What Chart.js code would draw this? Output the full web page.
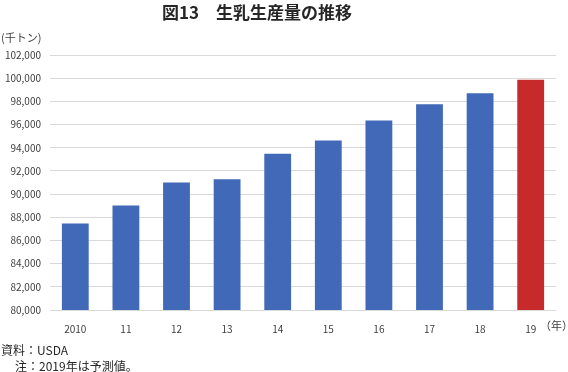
<!DOCTYPE html>
<html lang="ja">
<head>
    <meta charset="UTF-8" />
    <title>図13 生乳生産量の推移</title>
    <script src="https://cdn.jsdelivr.net/npm/chart.js"></script>
    <style>
        body {
            margin: 0;
            background: #fff;
            font-family: 'Noto Sans CJK JP', sans-serif;
            color: #262626;
        }
        #wrap {
            position: relative;
            width: 568px;
            height: 372px;
        }
        #grafico {
            position: absolute;
            left: 0;
            top: 0;
        }
        .txt {
            position: absolute;
            white-space: nowrap;
            line-height: 1;
        }
        #titulo {
            left: 162px;
            top: 3px;
            font-size: 17px;
            font-weight: bold;
        }
        #unidad { left: 1px; top: 32px; font-size: 11px; color: #404040; }
        #anio { left: 540px; top: 320px; font-size: 11px; color: #404040; }
        #fuente { left: 1px; top: 344px; font-size: 12px; }
        #nota { left: 15px; top: 360px; font-size: 12px; }
    </style>
</head>
<body>
    <div id="wrap">
        <canvas id="grafico" width="568" height="372"></canvas>
        <div class="txt" id="titulo">図13　生乳生産量の推移</div>
        <div class="txt" id="unidad">(千トン)</div>
        <div class="txt" id="anio">（年）</div>
        <div class="txt" id="fuente">資料：USDA</div>
        <div class="txt" id="nota">注：2019年は予測値。</div>
    </div>

    <script>
        // datos (千トン)
        const anios = ['2010', '11', '12', '13', '14', '15', '16', '17', '18', '19'];
        const produccion = [87461, 89020, 91010, 91277, 93485, 94619, 96343, 97761, 98690, 99870];
        const colores = ['#4169b8', '#4169b8', '#4169b8', '#4169b8', '#4169b8', '#4169b8', '#4169b8', '#4169b8', '#4169b8', '#c62a2a'];
        const yMin = 80000;
        const yMax = 102000;
        const yPaso = 2000;

        const ctx = document.getElementById('grafico').getContext('2d');

        new Chart(ctx, {
            type: 'bar',
            data: {
                labels: anios,
                datasets: [{
                    data: produccion,
                    backgroundColor: colores,
                    categoryPercentage: 1,
                    barPercentage: 0.53
                }]
            },
            options: {
                responsive: false,
                animation: false,
                layout: {
                    padding: { top: 55, right: 12, bottom: 34, left: 0 }
                },
                plugins: {
                    legend: { display: false },
                    tooltip: { enabled: false }
                },
                scales: {
                    x: {
                        grid: { display: false },
                        border: { display: false },
                        ticks: {
                            color: '#404040',
                            font: { family: "'Noto Sans CJK JP', sans-serif", size: 10 },
                            padding: 5,
                            maxRotation: 0
                        },
                        afterFit: s => { s.height = 28; }
                    },
                    y: {
                        min: yMin,
                        max: yMax,
                        grid: { color: '#d9d9d9', drawTicks: false },
                        border: { display: false },
                        ticks: {
                            stepSize: yPaso,
                            color: '#404040',
                            font: { family: "'Noto Sans CJK JP', sans-serif", size: 10 },
                            padding: 9,
                            callback: v => v.toLocaleString('en-US')
                        },
                        afterFit: s => { s.width = 50; }
                    }
                }
            }
        });
    </script>
</body>
</html>
